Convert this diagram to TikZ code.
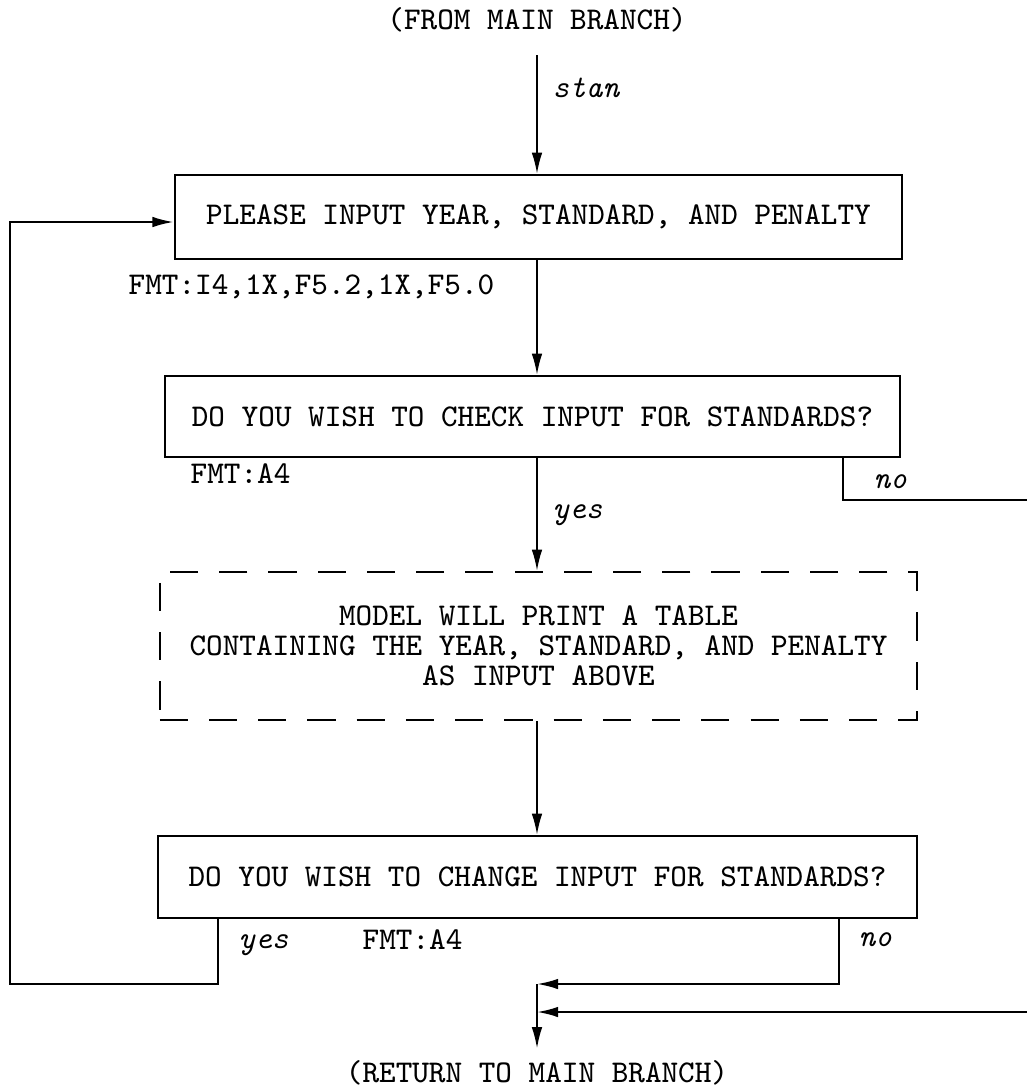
\documentclass[tikz,border=0pt]{standalone}
\usetikzlibrary{arrows.meta}
\begin{document}
\begin{tikzpicture}[x=0.01cm,y=-0.01cm,
  every node/.style={font=\fontsize{9}{8.5}\selectfont\ttfamily},
  box/.style={draw,line width=0.7pt,inner sep=0pt},
  dashbox/.style={box,dash pattern=on 8pt off 6pt,align=center},
  lbl/.style={anchor=west,inner sep=0pt,font=\fontsize{9}{8.5}\selectfont\ttfamily\itshape},
  fmt/.style={anchor=west,inner sep=0pt},
  arr/.style={-{Latex[length=6pt,width=3pt]},line width=0.45pt},
  ln/.style={line width=0.6pt}]
\useasboundingbox (0,0) rectangle (1027,1090);
% boxes
\node (from) at (537,20) {(FROM MAIN BRANCH)};
\node[box,minimum width=7.27cm,minimum height=0.84cm] (input) at (538.5,217) {PLEASE INPUT YEAR, STANDARD, AND PENALTY};
\node[fmt] (fmt1) at (128,287) {FMT:I4,1X,F5.2,1X,F5.0};
\node[box,minimum width=7.35cm,minimum height=0.81cm] (checkq) at (532.5,416.5) {DO YOU WISH TO CHECK INPUT FOR STANDARDS?};
\node[fmt] (fmt2) at (190,474) {FMT:A4};
\node[dashbox,minimum width=7.57cm,minimum height=1.48cm] (table) at (538.5,646) {MODEL WILL PRINT A TABLE\\CONTAINING THE YEAR, STANDARD, AND PENALTY\\AS INPUT ABOVE};
\node[box,minimum width=7.59cm,minimum height=0.82cm] (changeq) at (537.5,877) {DO YOU WISH TO CHANGE INPUT FOR STANDARDS?};
\node[fmt] (fmt3) at (362,940) {FMT:A4};
\node (ret) at (537,1073) {(RETURN TO MAIN BRANCH)};
% main line
\coordinate (stan0) at (537,55);
\draw[arr] (stan0) -- (stan0 |- input.north);
\node[lbl] (stanlbl) at (552,88) {stan};
\draw[arr] (input.south -| stan0) -- (stan0 |- checkq.north);
\draw[arr] (checkq.south -| stan0) -- (stan0 |- table.north);
\node[lbl] (yes1) at (552,515) {yes};
\draw[arr] (table.south -| stan0) -- (stan0 |- changeq.north);
% no branch of first question
\coordinate (no1) at (843,500); \coordinate (no1end) at (1027,500);
\draw[ln] (checkq.south -| no1) -- (no1) -- (no1end);
\node[lbl] (nolbl1) at (873,482) {no};
% yes loop back to input
\coordinate (loopA) at (218,984); \coordinate (loopB) at (10,222);
\draw[arr,ln] (changeq.south -| loopA) -- (loopA) -| (loopB) -- (loopB -| input.west);
\node[lbl] (yes3) at (238,945) {yes};
% no branches to return
\coordinate (join) at (537,984); \coordinate (no3) at (839,984); \coordinate (back) at (1027,1012);
\draw[arr,ln] (changeq.south -| no3) -- (no3) -- (join);
\node[lbl] (nolbl3) at (858,940) {no};
\draw[arr,ln] (back) -- (back -| join);
\draw[arr] (join) -- (ret.north);
\end{tikzpicture}
\end{document}
